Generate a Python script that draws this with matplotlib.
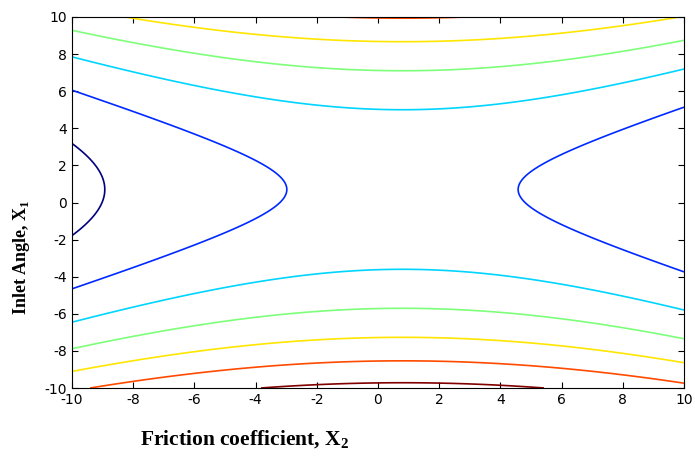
import numpy as np
import matplotlib
matplotlib.use("Agg")
import matplotlib.pyplot as plt

# Response-surface (quadratic) model coefficients, read from the contour geometry
# z = k11*(X1 - c1)^2 - k22*(X2 - c2)^2
center_x1 = 0.7
center_x2 = 0.8
k11 = 1.0
k22 = 0.28

# Contour levels (7 lines, jet colours from navy to dark red)
levels = [-26.5, -4.0, 18.5, 41.0, 63.5, 85.3, 108.5]

x_ticks = [-10, -8, -6, -4, -2, 0, 2, 4, 6, 8, 10]
y_ticks = [-10, -8, -6, -4, -2, 0, 2, 4, 6, 8, 10]

plt.rcParams['mathtext.fontset'] = 'custom'
plt.rcParams['mathtext.rm'] = 'Liberation Serif:bold'
plt.rcParams['mathtext.bf'] = 'Liberation Serif:bold'

fig = plt.figure(figsize=(6.95, 4.59), dpi=100)
ax = fig.add_axes([72/695, 1 - 388/459, (684-72)/695, (388-17)/459])

x2 = np.linspace(-10, 10, 401)
x1 = np.linspace(-10, 10, 401)
X2, X1 = np.meshgrid(x2, x1)
Z = k11 * (X1 - center_x1) ** 2 - k22 * (X2 - center_x2) ** 2

ax.contour(X2, X1, Z, levels=levels, cmap='jet', linewidths=1.2)

ax.set_xlim(-10, 10)
ax.set_ylim(-10, 10)
ax.set_xticks(x_ticks)
ax.set_yticks(y_ticks)
ax.set_xticklabels([str(t) for t in x_ticks])
ax.set_yticklabels([str(t) for t in y_ticks])
ax.tick_params(direction='in', length=4, width=0.8, top=True, right=True,
               labelsize=10, pad=3.5)
for lab in ax.get_xticklabels() + ax.get_yticklabels():
    lab.set_fontfamily('DejaVu Sans')
for s in ax.spines.values():
    s.set_linewidth(0.8)

fig.text(245/695, 1 - 440/459, 'Friction coefficient, X$_{\\mathrm{2}}$',
         ha='center', va='center', fontsize=15.5, fontweight='bold',
         family='Liberation Serif')
fig.text(22/695, 1 - 257/459, 'Inlet Angle, X$_{\\mathrm{1}}$',
         ha='center', va='center', fontsize=13, fontweight='bold',
         family='Liberation Serif', rotation=90)

fig.savefig('out.png', dpi=100)
